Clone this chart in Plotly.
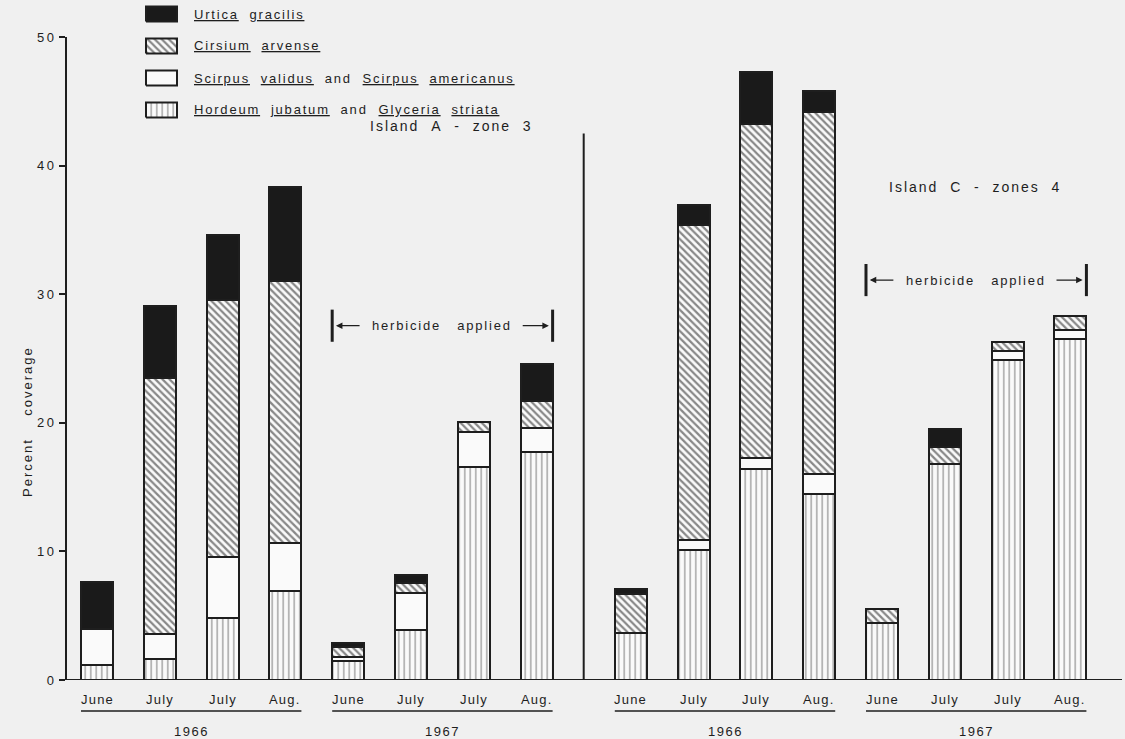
import plotly.graph_objects as go

# ---- data -------------------------------------------------------------
months = ["June", "July", "July", "Aug.", "June", "July", "July", "Aug."]
years = ["1966", "1967"]

# Island A - zone 3 (percent coverage, stacked bottom to top)
hordeum_a = [1.15, 1.6, 4.85, 6.95, 1.5, 3.9, 16.6, 17.7]
scirpus_a = [2.85, 2.0, 4.75, 3.7, 0.3, 2.85, 2.65, 1.9]
cirsium_a = [0.0, 19.85, 19.95, 20.35, 0.75, 0.8, 0.85, 2.1]
urtica_a = [3.6, 5.65, 5.05, 7.35, 0.3, 0.65, 0.0, 2.9]

# Island C - zones 4
hordeum_c = [3.65, 10.1, 16.4, 14.5, 4.4, 16.8, 24.9, 26.5]
scirpus_c = [0.0, 0.8, 0.85, 1.55, 0.0, 0.0, 0.7, 0.7]
cirsium_c = [3.0, 24.5, 26.0, 28.15, 1.1, 1.35, 0.65, 1.1]
urtica_c = [0.45, 1.5, 4.05, 1.6, 0.0, 1.35, 0.0, 0.0]

y_ticks = [0, 10, 20, 30, 40, 50]

# ---- geometry / styling -----------------------------------------------
W, H = 1125, 739
ML, MR, MT, MB = 66, 3, 0, 59
PW, PH = W - ML - MR, H - MT - MB
PX_PER_X = 62.8           # pixels per bar slot
PX_PER_Y = 12.86          # pixels per percent
X_MIN = -31 / PX_PER_X
X_MAX = X_MIN + PW / PX_PER_X
Y_MAX = PH / PX_PER_Y
BAR_W = 0.51

INK = "#1e1e1e"
BG = "#f0f0f0"
WHITE = "#fafafa"
DARK = "#1a1a1a"
FONT = "Liberation Sans, Arial, sans-serif"
NB = "\u00a0"


def fx(px):
    return (px - ML) / PW


def fy(py):
    return (MT + PH - py) / PH


def dx(px):
    return X_MIN + (px - ML) / PX_PER_X


def dy(py):
    return (MT + PH - py) / PX_PER_Y


def spaced(text, ls=1.8):
    return f'<span style="letter-spacing:{ls}px">{text}</span>'


def gap(n=2):
    return NB * n


# bar slots: island C starts one and a half slots after island A
pos_a = [i for i in range(len(months))]
pos_c = [i + len(months) + 0.5 for i in range(len(months))]
positions = pos_a + pos_c


def nz(vals):
    return [v if v > 0 else None for v in vals]


HATCH_V = dict(shape="|", fgcolor="#262626", bgcolor=WHITE, size=5.5, solidity=0.22)
HATCH_D = dict(shape="\\", fgcolor="#151515", bgcolor=WHITE, size=5, solidity=0.45)

species = [
    ("Hordeum jubatum and Glyceria striata", hordeum_a + hordeum_c, WHITE, HATCH_V),
    ("Scirpus validus and Scirpus americanus", scirpus_a + scirpus_c, WHITE, None),
    ("Cirsium arvense", cirsium_a + cirsium_c, WHITE, HATCH_D),
    ("Urtica gracilis", urtica_a + urtica_c, DARK, None),
]

fig = go.Figure()
for name, vals, color, pat in species:
    marker = dict(color=color, line=dict(color=INK, width=2))
    if pat:
        marker["pattern"] = pat
    fig.add_trace(go.Bar(x=positions, y=nz(vals), width=BAR_W, name=name,
                         marker=marker, showlegend=False, hoverinfo="skip"))

annotations = []
shapes = []

# ---- key ------------------------------------------------------------
key_rows = ["Urtica gracilis", "Cirsium arvense",
            "Scirpus validus and Scirpus americanus",
            "Hordeum jubatum and Glyceria striata"]
key_text = [
    f"<u>Urtica</u>{gap()}<u>gracilis</u>",
    f"<u>Cirsium</u>{gap()}<u>arvense</u>",
    f"<u>Scirpus</u>{gap()}<u>validus</u>{gap()}and{gap()}<u>Scirpus</u>{gap()}<u>americanus</u>",
    f"<u>Hordeum</u>{gap()}<u>jubatum</u>{gap()}and{gap()}<u>Glyceria</u>{gap()}<u>striata</u>",
]
key_top, key_step, key_h = 14, 32, 15
key_x0, key_x1 = 146, 177
style = {n: (c, p) for n, _, c, p in species}
for i, name in enumerate(key_rows):
    yc = key_top + i * key_step
    color, pat = style[name]
    xs = [dx(key_x0), dx(key_x1), dx(key_x1), dx(key_x0), dx(key_x0)]
    ys = [dy(yc + key_h / 2), dy(yc + key_h / 2), dy(yc - key_h / 2),
          dy(yc - key_h / 2), dy(yc + key_h / 2)]
    tr = dict(x=xs, y=ys, mode="lines", fill="toself", fillcolor=color,
              line=dict(color=INK, width=2), showlegend=False, hoverinfo="skip")
    if pat:
        tr["fillpattern"] = pat
    fig.add_trace(go.Scatter(**tr))
    annotations.append(dict(xref="paper", yref="paper", x=fx(192), y=fy(yc),
                            xanchor="left", yanchor="middle", showarrow=False,
                            text=spaced(key_text[i], 1.8),
                            font=dict(family=FONT, size=13, color=INK)))

# y axis line (0 to 50 only)
shapes.append(dict(type="line", xref="paper", yref="y", x0=0, x1=0, y0=0, y1=50,
                   line=dict(color=INK, width=2)))
# baseline
shapes.append(dict(type="line", xref="paper", yref="y", x0=fx(60), x1=1, y0=0, y1=0,
                   line=dict(color=INK, width=2)))
# divider between the two islands
mid = (pos_a[-1] + pos_c[0]) / 2
shapes.append(dict(type="line", xref="x", yref="y", x0=mid, x1=mid, y0=0, y1=42.5,
                   line=dict(color=INK, width=2)))

# month labels, year rules and year labels
for group in (pos_a, pos_c):
    for j, p in enumerate(group):
        annotations.append(dict(xref="x", yref="paper", x=p, y=fy(700),
                                text=spaced(months[j], 1.2), showarrow=False,
                                xanchor="center", yanchor="middle",
                                font=dict(family=FONT, size=13, color=INK)))
    for k, yr in enumerate(years):
        seg = group[k * 4:(k + 1) * 4]
        x0, x1 = seg[0] - BAR_W / 2, seg[-1] + BAR_W / 2
        shapes.append(dict(type="line", xref="x", yref="paper", x0=x0, x1=x1,
                           y0=fy(711), y1=fy(711), line=dict(color=INK, width=1.5)))
        annotations.append(dict(xref="x", yref="paper", x=(x0 + x1) / 2, y=fy(731),
                                text=spaced(yr, 1.5), showarrow=False,
                                xanchor="center", yanchor="middle",
                                font=dict(family=FONT, size=13, color=INK)))

# island titles
annotations.append(dict(xref="x", yref="y", x=5.64, y=43.1,
                        text=spaced(f"Island{gap()}A{gap()}-{gap()}zone{gap()}3", 2.0),
                        showarrow=False, font=dict(family=FONT, size=14, color=INK)))
annotations.append(dict(xref="x", yref="y", x=13.98, y=38.3,
                        text=spaced(f"Island{gap()}C{gap()}-{gap()}zones{gap()}4", 2.0),
                        showarrow=False, font=dict(family=FONT, size=14, color=INK)))

# herbicide-applied brackets over the 1967 bars
for group, yc in ((pos_a, 27.55), (pos_c, 31.1)):
    x0 = group[4] - BAR_W / 2
    x1 = group[7] + BAR_W / 2
    for xv in (x0, x1):
        shapes.append(dict(type="line", xref="x", yref="y", x0=xv, x1=xv,
                           y0=yc - 1.25, y1=yc + 1.25, line=dict(color=INK, width=3)))
    annotations.append(dict(xref="x", yref="y", x=(x0 + x1) / 2, y=yc,
                            text=spaced(f"herbicide{gap(3)}applied", 1.8),
                            showarrow=False,
                            font=dict(family=FONT, size=13, color=INK)))
    for head, tail in ((x0 + 0.06, x0 + 0.46), (x1 - 0.06, x1 - 0.5)):
        annotations.append(dict(xref="x", yref="y", x=head, y=yc, ax=tail, ay=yc,
                                axref="x", ayref="y", text="", showarrow=True,
                                arrowhead=2, arrowsize=1, arrowwidth=1.3,
                                arrowcolor=INK))

# y axis title
annotations.append(dict(xref="paper", yref="paper", x=fx(27), y=fy(422),
                        text=spaced(f"Percent{gap(4)}coverage", 2.0),
                        textangle=-90, showarrow=False,
                        xanchor="center", yanchor="middle",
                        font=dict(family=FONT, size=13, color=INK)))

fig.update_layout(
    width=W, height=H,
    margin=dict(l=ML, r=MR, t=MT, b=MB, pad=0),
    paper_bgcolor=BG, plot_bgcolor=BG,
    barmode="stack", bargap=0,
    font=dict(family=FONT, size=13, color=INK),
    xaxis=dict(range=[X_MIN, X_MAX], showgrid=False, zeroline=False,
               showline=False, showticklabels=False, ticks=""),
    yaxis=dict(range=[0, Y_MAX], showgrid=False, zeroline=False, showline=False,
               tickvals=y_ticks, ticktext=[spaced(str(v), 2.5) for v in y_ticks],
               ticks="outside", ticklen=6, tickwidth=2, tickcolor=INK,
               tickfont=dict(family=FONT, size=13, color=INK)),
    shapes=shapes,
    annotations=annotations,
)

fig.write_html("out.html")
